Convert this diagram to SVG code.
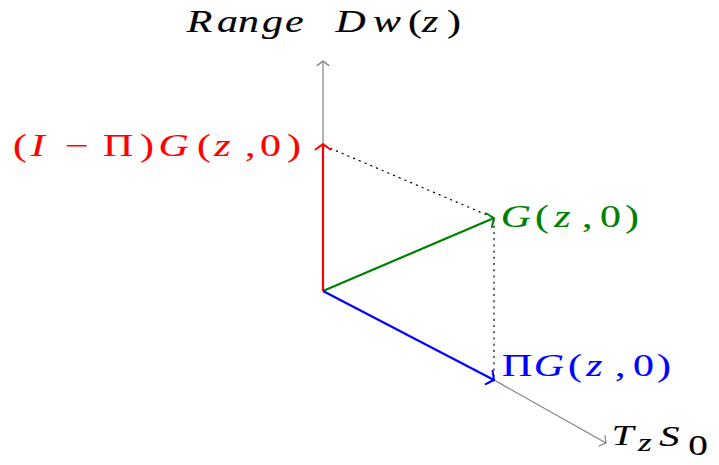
<svg xmlns="http://www.w3.org/2000/svg" width="719" height="465" viewBox="0 0 719 465">
<style>
.lbl{font-family:"Liberation Serif","DejaVu Serif",serif;font-size:31px;font-style:italic;stroke-width:0.15px}
.up{font-style:normal}
</style>
<defs>
<marker id="ag" markerUnits="userSpaceOnUse" markerWidth="20" markerHeight="20" refX="0" refY="0" viewBox="-10 -10 20 20" orient="auto" overflow="visible">
<path d="M-4.5,-6 Q-1.5,-1.5 0,0 Q-1.5,1.5 -4.5,6" fill="none" stroke="#808080" stroke-width="1.2" stroke-linecap="round"/>
</marker>
<marker id="ar" markerUnits="userSpaceOnUse" markerWidth="20" markerHeight="20" refX="0" refY="0" viewBox="-10 -10 20 20" orient="auto" overflow="visible">
<path d="M-5.5,-7.5 Q-1.5,-2 0,0 Q-1.5,2 -5.5,7.5" fill="none" stroke="#ff0000" stroke-width="2" stroke-linecap="round"/>
</marker>
<marker id="agr" markerUnits="userSpaceOnUse" markerWidth="20" markerHeight="20" refX="0" refY="0" viewBox="-10 -10 20 20" orient="auto" overflow="visible">
<path d="M-5.5,-7.5 Q-1.5,-2 0,0 Q-1.5,2 -5.5,7.5" fill="none" stroke="#008000" stroke-width="2" stroke-linecap="round"/>
</marker>
<marker id="ab" markerUnits="userSpaceOnUse" markerWidth="20" markerHeight="20" refX="0" refY="0" viewBox="-10 -10 20 20" orient="auto" overflow="visible">
<path d="M-5.5,-7.5 Q-1.5,-2 0,0 Q-1.5,2 -5.5,7.5" fill="none" stroke="#0000ff" stroke-width="2" stroke-linecap="round"/>
</marker>
</defs>
<g id="connectors">
<line x1="323" y1="291" x2="323" y2="61" stroke="#808080" stroke-width="1.2" marker-end="url(#ag)"/>
<line x1="494" y1="380" x2="606" y2="443" stroke="#808080" stroke-width="1.2" marker-end="url(#ag)"/>
<line x1="325" y1="146" x2="494" y2="218" stroke="#000" stroke-width="1.2" stroke-dasharray="1.2 5" stroke-linecap="round"/>
<line x1="494" y1="220" x2="494" y2="378" stroke="#000" stroke-width="1.2" stroke-dasharray="1.2 5" stroke-linecap="round"/>
<line x1="323" y1="291" x2="323" y2="144" stroke="#ff0000" stroke-width="2.2" marker-end="url(#ar)"/>
<line x1="323" y1="291" x2="494" y2="218" stroke="#008000" stroke-width="2.2" marker-end="url(#agr)"/>
<line x1="323" y1="291" x2="494" y2="380" stroke="#0000ff" stroke-width="2.2" marker-end="url(#ab)"/>
</g>
<g id="range-label" transform="scale(1.35,1)">
<text class="lbl" y="32" font-size="32" fill="#000" stroke="#000"><tspan x="138.3 160.7 176.3 194.1 211.1 248.6 276.3">RangeDw</tspan><tspan class="up" x="302.2">(</tspan><tspan x="312.6">z</tspan><tspan class="up" x="331.1">)</tspan></text>
</g>
<g id="perp-label" transform="scale(1.35,1)">
<text class="lbl" y="156" fill="#ff0000" stroke="#ff0000"><tspan class="up" x="9.6">(</tspan><tspan x="22.7">I</tspan><tspan class="up" x="48.1 76.3 103.7">−Π)</tspan><tspan x="117.5">G</tspan><tspan class="up" x="145.9">(</tspan><tspan x="158.8">z</tspan><tspan class="up" x="181.5 192.6 212.6">,0)</tspan></text>
</g>
<g id="g-label" transform="scale(1.35,1)">
<text class="lbl" y="227" fill="#008000" stroke="#008000"><tspan x="370.9">G</tspan><tspan class="up" x="396.3">(</tspan><tspan x="410.6">z</tspan><tspan class="up" x="431.1 444.4 463">,0)</tspan></text>
</g>
<g id="pi-label" transform="scale(1.35,1)">
<text class="lbl" y="376" fill="#0000ff" stroke="#0000ff"><tspan class="up" x="371.9">Π</tspan><tspan x="395.3">G</tspan><tspan class="up" x="420.7">(</tspan><tspan x="434.3">z</tspan><tspan class="up" x="455.6 468.9 486.7">,0)</tspan></text>
</g>
<g id="tangent-label" transform="scale(1.35,1)">
<text class="lbl" fill="#000" stroke="#000"><tspan x="453.1" y="445" font-size="29">T</tspan><tspan x="472.6" y="451" font-size="26">z</tspan><tspan x="488.4" y="446" font-size="30">S</tspan><tspan class="up" x="509.9" y="455" font-size="29">0</tspan></text>
</g>
</svg>
